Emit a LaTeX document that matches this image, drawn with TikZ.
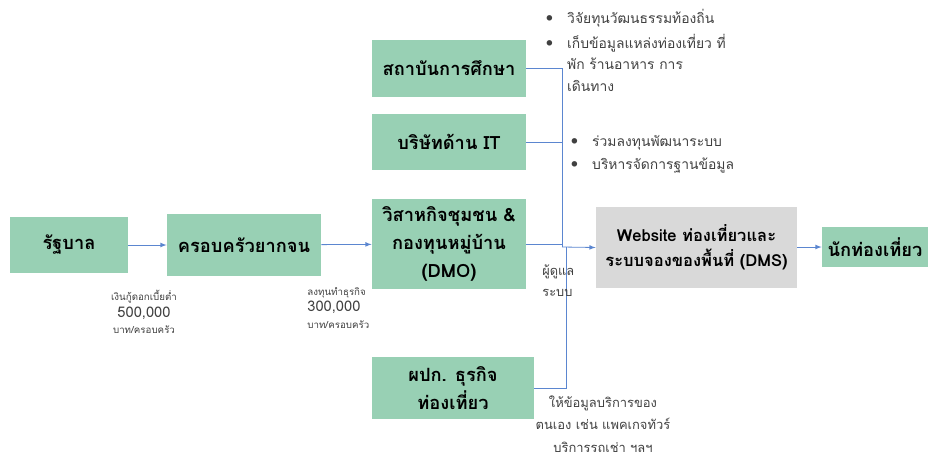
\documentclass[tikz,border=0pt]{standalone}
\usepackage{fontspec}
\setmainfont[Script=Thai]{Loma}
\usepackage{tikz}
\usetikzlibrary{positioning}
\usetikzlibrary{calc}
\definecolor{boxgreen}{RGB}{152,208,180}
\definecolor{boxgray}{RGB}{217,217,217}
\definecolor{linkblue}{RGB}{91,134,208}
\definecolor{notegray}{RGB}{64,64,64}
\tikzset{every picture/.style={line width=0.6pt},
  greenbox/.style={fill=boxgreen,inner sep=0pt,align=center,font=\fontsize{13.7}{21}\selectfont\bfseries},
  graybox/.style={fill=boxgray,inner sep=0pt,align=center,font=\fontsize{12.4}{19}\selectfont\bfseries},
  note/.style={inner sep=0pt,text=notegray,font=\fontsize{10.4}{16}\selectfont},
  smallnote/.style={note,font=\fontsize{7.3}{12.5}\selectfont},
  link/.style={draw=linkblue}}
\newcommand{\bul}{\makebox[16pt][l]{\large\textbullet}}
\newcommand{\amount}[1]{{\fontsize{11}{12.5}\selectfont #1}}

\begin{document}
\begin{tikzpicture}[x=0.75pt,y=-0.75pt]
\useasboundingbox (0,0) rectangle (936,457);
% boxes
\node[greenbox,minimum width=88.5pt,minimum height=42pt] (gov) at (69,245) {รัฐบาล};
\node[greenbox,minimum width=115.5pt,minimum height=46.5pt] (family) at (244,245) {ครอบครัวยากจน};
\node[greenbox,minimum width=115.5pt,minimum height=67.5pt] (dmo) at (449,244) {วิสาหกิจชุมชน \&\\กองทุนหมู่บ้าน\\(DMO)};
\node[greenbox,minimum width=115.5pt,minimum height=42.75pt] (edu) at (449,68.5) {สถาบันการศึกษา};
\node[greenbox,minimum width=115.5pt,minimum height=42pt] (it) at (449,142) {บริษัทด้าน IT};
\node[greenbox,minimum width=121.5pt,minimum height=46.5pt] (biz) at (453,388) {ผปก. ธุรกิจ\\ท่องเที่ยว};
\node[graybox,minimum width=150.75pt,minimum height=60.75pt] (web) at (696.5,247.5) {Website ท่องเที่ยวและ\\ระบบจองของพื้นที่ (DMS)};
\node[greenbox,minimum width=79.5pt,minimum height=30pt] (tourist) at (875,247) {นักท่องเที่ยว};
\coordinate (jn) at (562,247);
\coordinate (jnb) at (566,247);
% links
\draw[link,-latex] (gov) -- (family);
\draw[link,-latex] (family) -- (dmo);
\draw[link] (edu.east) -| (jn);
\draw[link] (it.east) -| (jn);
\draw[link] (dmo.east) -- (dmo.east -| jn);
\draw[link] (biz.east) -| (jnb);
\draw[link,-latex] (jn) -- (web.west);
\draw[link,-latex] (web.east |- tourist.west) -- (tourist.west);
% notes
\node[smallnote,align=center] (loan) at (144,312) {เงินกู้ดอกเบี้ยต่ำ\\\amount{500,000}\\บาท/ครอบครัว};
\node[smallnote,align=left,anchor=west] (invest) at (307,308) {ลงทุนทำธุรกิจ\\\amount{300,000}\\บาท/ครอบครัว};
\node[note,font=\fontsize{9.6}{16}\selectfont,align=left,anchor=west] (admin) at (542,281) {ผู้ดูแล\\ระบบ};
\node[note,align=left,anchor=west] (research) at (545.5,18) {\bul วิจัยทุนวัฒนธรรมท้องถิ่น};
\node[note,align=left,anchor=north west] (survey) at (545.5,34) {\bul เก็บข้อมูลแหล่งท่องเที่ยว ที่\\\hspace*{16pt}พัก ร้านอาหาร การ\\\hspace*{16pt}เดินทาง};
\node[note,align=left,anchor=west] (fund) at (570.5,143) {\bul ร่วมลงทุนพัฒนาระบบ};
\node[note,align=left,anchor=west] (data) at (570.5,166) {\bul บริหารจัดการฐานข้อมูล};
\node[note,font=\fontsize{9.7}{17}\selectfont,align=center] (service) at (603,424) {ให้ข้อมูลบริการของ\\ตนเอง เช่น แพคเกจทัวร์\\บริการรถเช่า ฯลฯ};
\end{tikzpicture}
\end{document}
